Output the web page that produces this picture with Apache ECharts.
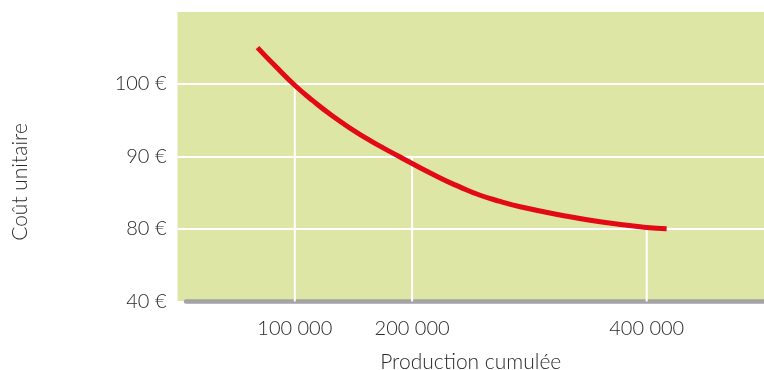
<!DOCTYPE html>
<html>
<head>
<meta charset="utf-8">
<script src="https://cdn.jsdelivr.net/npm/echarts@6/dist/echarts.min.js"></script>
<style>html,body{margin:0;padding:0;background:#fff}#c{width:764px;height:370px}</style>
</head>
<body>
<div id="c"></div>
<script>
// Data
const curveX = [68200, 84000, 99700, 115600, 131600, 155700, 189800, 223900, 241000, 258000, 275000, 292100, 326100, 360200, 400000, 417000];
const curveY = [104.96, 102.31, 99.81, 97.62, 95.62, 92.99, 89.89, 87.0, 85.75, 84.63, 83.78, 83.05, 81.92, 80.98, 80.2, 80.03];
const dropX = [100000, 200000, 400000];
const dropY = [100, 90, 80];
const xTickValues = [100000, 200000, 400000];
const xTickLabels = ['100 000', '200 000', '400 000'];
const yTickValues = [70, 80, 90, 100];
const yTickLabels = ['40 €', '80 €', '90 €', '100 €'];
const xName = 'Production cumulée';
const yName = 'Coût unitaire';

const FONT = 'Lato';
const TXT = '#2a2a2a';
const chart = echarts.init(document.getElementById('c'), null, {renderer: 'canvas'});

const series = [];
dropX.forEach((x, i) => {
  series.push({
    type: 'line', xAxisIndex: 0, yAxisIndex: 0, silent: true, symbol: 'none',
    data: [[x, dropY[i]], [x, 70]],
    lineStyle: {color: '#ffffff', width: 2}, z: 2
  });
});
series.push({
  type: 'line', xAxisIndex: 0, yAxisIndex: 0, smooth: 0.5, symbol: 'none',
  data: curveX.map((x, i) => [x, curveY[i]]),
  lineStyle: {color: '#e30a17', width: 5, cap: 'butt'}, z: 5
});

chart.setOption({
  animation: false,
  grid: [
    {left: 177.5, right: 0, top: 11, bottom: 68.5, show: true, backgroundColor: '#dee6a5', borderWidth: 0, outerBoundsMode: 'none', containLabel: false},
    {left: 186, right: 0, top: 11, bottom: 68.5, show: false, outerBoundsMode: 'none', containLabel: false}
  ],
  xAxis: [
    {
      type: 'value', gridIndex: 0, min: 0, max: 500000, interval: 100000,
      name: xName, nameLocation: 'middle', nameGap: 50,
      nameTextStyle: {fontFamily: FONT, fontWeight: 300, fontSize: 21, color: TXT},
      axisLine: {show: false}, axisTick: {show: false}, splitLine: {show: false},
      axisLabel: {
        margin: 17, fontFamily: FONT, fontWeight: 300, fontSize: 20, color: TXT,
        formatter: v => { const i = xTickValues.indexOf(v); return i >= 0 ? xTickLabels[i] : ''; }
      }
    },
    {
      type: 'value', gridIndex: 1, min: 0, max: 100, offset: 5,
      axisLine: {show: true, lineStyle: {color: '#a3a3a3', width: 4.5}},
      axisTick: {show: false}, axisLabel: {show: false}, splitLine: {show: false}
    }
  ],
  yAxis: [
    {
      type: 'value', gridIndex: 0, min: 70, max: 110, interval: 10,
      axisLine: {show: false}, axisTick: {show: false},
      splitLine: {show: true, lineStyle: {color: '#ffffff', width: 2}},
      axisLabel: {
        margin: 11, fontFamily: FONT, fontWeight: 300, fontSize: 20, color: TXT,
        padding: [0, 0, 5, 0],
        formatter: v => { const i = yTickValues.indexOf(v); return i >= 0 ? yTickLabels[i] : ''; }
      }
    },
    {type: 'value', gridIndex: 1, show: false, min: 0, max: 1}
  ],
  graphic: [{
    type: 'text', rotation: Math.PI / 2, x: 20, y: 182,
    style: {text: yName, fontFamily: FONT, fontWeight: 300, fontSize: 21, fill: TXT, align: 'center', verticalAlign: 'middle'}
  }],
  series: series
});
</script>
</body>
</html>
